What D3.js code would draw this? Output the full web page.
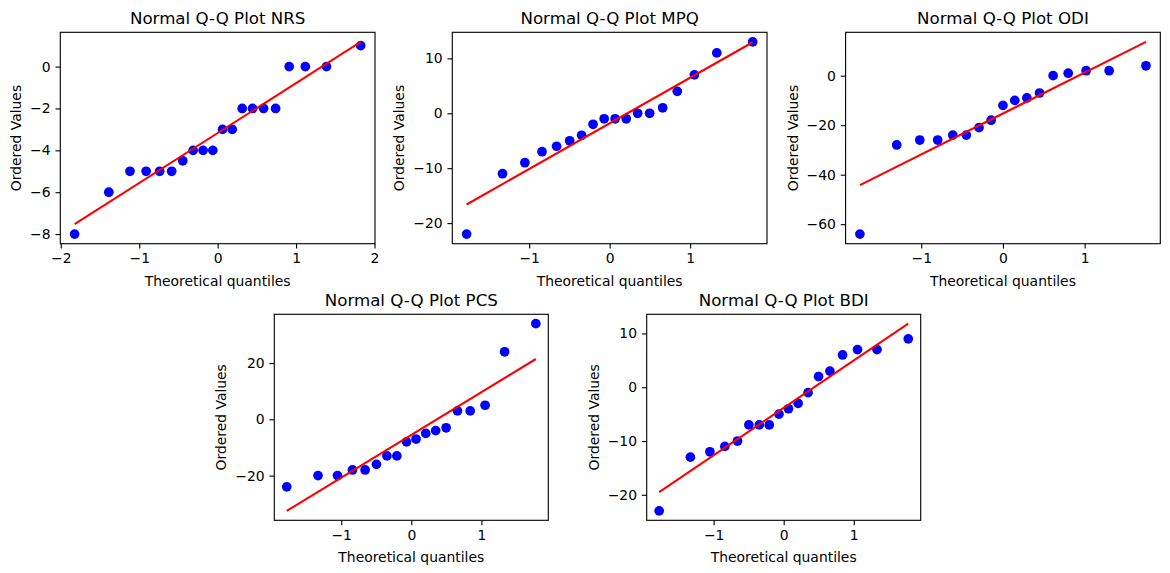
<!DOCTYPE html>
<html>
<head>
<meta charset="utf-8">
<script src="https://cdn.jsdelivr.net/npm/d3@7"></script>
<style>
  body { margin: 0; background: #fff; }
  svg { display: block; font-family: "DejaVu Sans", sans-serif; }
</style>
</head>
<body>
<svg id="chart" width="1170" height="573"></svg>
<script>
var q20 = [-1.824, -1.388, -1.118, -0.912, -0.739, -0.586, -0.445, -0.313, -0.186, -0.062,
           0.062, 0.186, 0.313, 0.445, 0.586, 0.739, 0.912, 1.118, 1.388, 1.824];
var q18 = [-1.777, -1.331, -1.053, -0.840, -0.659, -0.497, -0.348, -0.206, -0.068,
           0.068, 0.206, 0.348, 0.497, 0.659, 0.840, 1.053, 1.331, 1.777];
var q17 = [-1.751, -1.300, -1.018, -0.799, -0.614, -0.448, -0.293, -0.145, 0,
           0.145, 0.293, 0.448, 0.614, 0.799, 1.018, 1.300, 1.751];

// ordered values
var nrsValues = [-8, -6, -5, -5, -5, -5, -4.5, -4, -4, -4, -3, -3, -2, -2, -2, -2, 0, 0, 0, 1];
var mpqValues = [-22, -11, -9, -7, -6, -5, -4, -2, -1, -1, -1, 0, 0, 1, 4, 7, 11, 13];
var odiValues = [-64, -28, -26, -26, -24, -24, -21, -18, -12, -10, -9, -7, 0, 1, 2, 2, 4];
var pcsValues = [-24, -20, -20, -18, -18, -16, -13, -13, -8, -7, -5, -4, -3, 3, 3, 5, 24, 34];
var bdiValues = [-23, -13, -12, -11, -10, -7, -7, -7, -5, -4, -3, -1, 2, 3, 6, 7, 7, 9];

var titles = ["Normal Q-Q Plot NRS", "Normal Q-Q Plot MPQ", "Normal Q-Q Plot ODI",
              "Normal Q-Q Plot PCS", "Normal Q-Q Plot BDI"];

var xTickSets = [[-2, -1, 0, 1, 2], [-1, 0, 1], [-1, 0, 1], [-1, 0, 1], [-1, 0, 1]];
var yTickSets = [[-8, -6, -4, -2, 0], [-20, -10, 0, 10], [-60, -40, -20, 0],
                 [-20, 0, 20], [-20, -10, 0, 10]];

// where each axes box sits on the page
var boxes = [
    {left: 60.3,  top: 32.3,  width: 314.7, height: 211.4},
    {left: 452.3, top: 32.3,  width: 314.7, height: 211.4},
    {left: 845.6, top: 32.3,  width: 314.7, height: 211.4},
    {left: 274.3, top: 314.3, width: 274,   height: 206},
    {left: 646.7, top: 314.3, width: 274,   height: 206}
];

var series = [
    {x: q20, y: nrsValues},
    {x: q18, y: mpqValues},
    {x: q17, y: odiValues},
    {x: q18, y: pcsValues},
    {x: q18, y: bdiValues}
];

var tickLen = 4.86, tickPad = 4.86, fontPx = 13.9;
var svg = d3.select("#chart");

function fitLine(xs, ys) {
    // least squares, same as probplot's red line
    var mx = d3.mean(xs), my = d3.mean(ys);
    var sxy = d3.sum(xs, function(d, i){ return (d - mx) * (ys[i] - my); });
    var sxx = d3.sum(xs, function(d){ return (d - mx) * (d - mx); });
    var slope = sxy / sxx;
    return {slope: slope, intercept: my - slope * mx};
}

function pad(ext) {
    var m = (ext[1] - ext[0]) * 0.05;
    return [ext[0] - m, ext[1] + m];
}

function drawPanel(i) {
    var box = boxes[i], xs = series[i].x, ys = series[i].y;
    var fit = fitLine(xs, ys);
    var lineY = xs.map(function(d){ return fit.slope * d + fit.intercept; });

    var x = d3.scaleLinear().domain(pad(d3.extent(xs)))
        .range([box.left, box.left + box.width]);
    var y = d3.scaleLinear().domain(pad(d3.extent(ys.concat(lineY))))
        .range([box.top + box.height, box.top]);

    var g = svg.append("g").attr("class", "panel");

    var clipId = "clip" + i;
    g.append("clipPath").attr("id", clipId).append("rect")
        .attr("x", box.left).attr("y", box.top)
        .attr("width", box.width).attr("height", box.height);

    var plot = g.append("g").attr("clip-path", "url(#" + clipId + ")");

    // marker + its 1pt edge in the same blue
    plot.selectAll("circle")
        .data(xs)
        .enter()
        .append("circle")
        .attr("cx", function(d){ return x(d); })
        .attr("cy", function(d, j){ return y(ys[j]); })
        .attr("r", 4.86)
        .attr("fill", "#0000ff");

    var ends = d3.extent(xs);
    plot.append("path")
        .datum(ends)
        .attr("d", d3.line()
            .x(function(d){ return x(d); })
            .y(function(d){ return y(fit.slope * d + fit.intercept); }))
        .attr("stroke", "#ff0000")
        .attr("stroke-width", 2.08)
        .attr("fill", "none");

    // axes
    var xAxis = g.append("g")
        .attr("transform", "translate(0," + (box.top + box.height) + ")")
        .call(d3.axisBottom(x).tickValues(xTickSets[i]).tickFormat(d3.format("d"))
            .tickSize(tickLen).tickPadding(tickPad));
    var yAxis = g.append("g")
        .attr("transform", "translate(" + box.left + ",0)")
        .call(d3.axisLeft(y).tickValues(yTickSets[i]).tickFormat(d3.format("d"))
            .tickSize(tickLen).tickPadding(tickPad));

    [xAxis, yAxis].forEach(function(a){
        a.select(".domain").remove();
        a.selectAll(".tick line").attr("stroke", "#000").attr("stroke-width", 1.11);
        a.selectAll(".tick text").attr("fill", "#000")
            .style("font-size", fontPx + "px").style("font-family", "DejaVu Sans");
    });

    g.append("rect")
        .attr("x", box.left).attr("y", box.top)
        .attr("width", box.width).attr("height", box.height)
        .attr("fill", "none").attr("stroke", "#000").attr("stroke-width", 1.11);

    // title + labels
    g.append("text")
        .attr("x", box.left + box.width / 2)
        .attr("y", box.top - 8.33)
        .attr("text-anchor", "middle")
        .style("font-size", "16.67px")
        .text(titles[i]);

    g.append("text")
        .attr("x", box.left + box.width / 2)
        .attr("y", box.top + box.height + 42)
        .attr("text-anchor", "middle")
        .style("font-size", fontPx + "px")
        .text("Theoretical quantiles");

    var maxW = 0;
    yAxis.selectAll(".tick text").each(function(){
        maxW = Math.max(maxW, this.getBBox().width);
    });
    var lx = box.left - tickLen - tickPad - maxW - 5.56 - 3.2;
    g.append("text")
        .attr("transform", "translate(" + lx + "," + (box.top + box.height / 2) + ") rotate(-90)")
        .attr("text-anchor", "middle")
        .style("font-size", fontPx + "px")
        .text("Ordered Values");
}

for (var i = 0; i < boxes.length; i++) {
    drawPanel(i);
}
</script>
</body>
</html>
